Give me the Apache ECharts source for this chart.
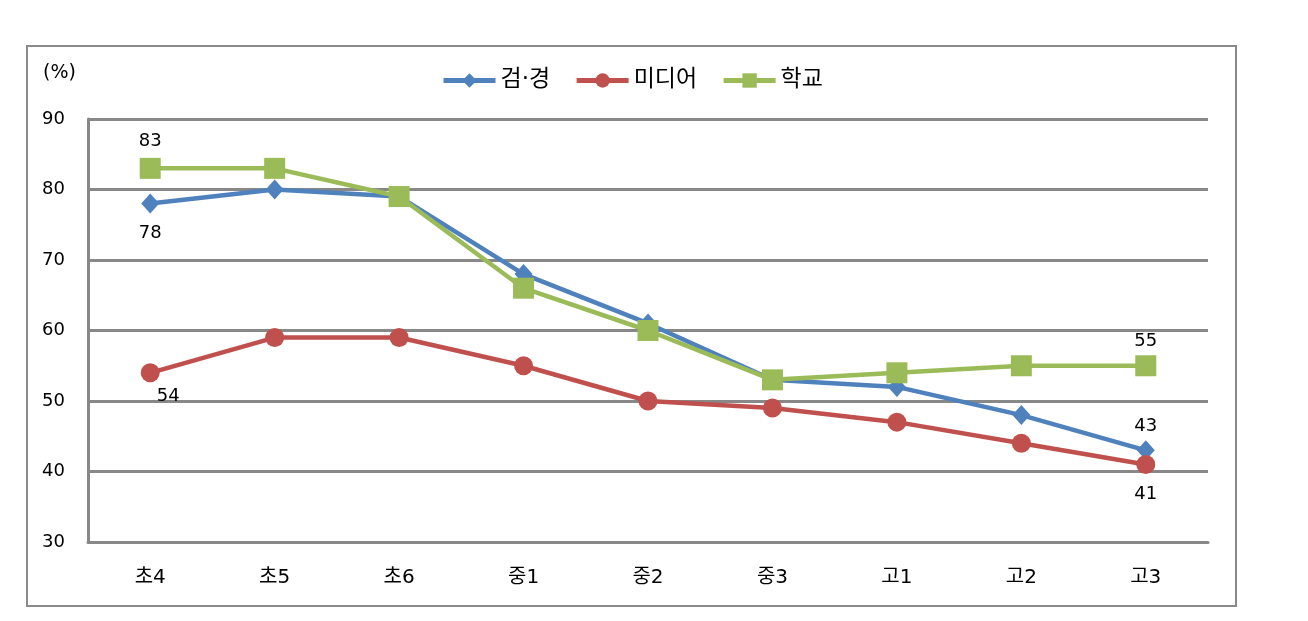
<!DOCTYPE html>
<html><head><meta charset="utf-8">
<script src="https://cdn.jsdelivr.net/npm/echarts@6/dist/echarts.min.js"></script>
<style>html,body{margin:0;padding:0;background:#fff}#c{width:1308px;height:621px}</style>
</head><body><div id="c"></div>
<script>
const categories = ['초4','초5','초6','중1','중2','중3','고1','고2','고3'];
const seriesNames = ['검·경','미디어','학교'];
const police = [78, 80, 79, 68, 61, 53, 52, 48, 43];
const media = [54, 59, 59, 55, 50, 49, 47, 44, 41];
const school = [83, 83, 79, 66, 60, 53, 54, 55, 55];
const yTicks = [30, 40, 50, 60, 70, 80, 90];
// which points carry a value label, and on which side
const policeLabels = {0: 'bottom', 8: 'top'};
const mediaLabels = {0: 'bottom', 8: 'bottom'};
const schoolLabels = {0: 'top', 8: 'top'};

const font = '"DejaVu Sans", "Noto Sans CJK KR", sans-serif';
const colors = ['#4F81BD', '#C0504D', '#9BBB59'];

function build(vals, labels, extra) {
  return vals.map((v, i) => {
    if (labels[i] === undefined) return v;
    const pos = labels[i];
    const lab = {show: true, position: pos, distance: pos === 'top' ? 5 : 11,
      color: '#000', fontSize: 18, fontFamily: font};
    if (extra && extra[i]) Object.assign(lab, extra[i]);
    return {value: v, label: lab};
  });
}

const chart = echarts.init(document.getElementById('c'), null, {renderer: 'canvas'});
chart.setOption({
  animation: false,
  backgroundColor: '#fff',
  color: colors,
  graphic: [
    {type: 'rect', shape: {x: 27, y: 46, width: 1209, height: 560},
     style: {fill: 'none', stroke: '#8a8a8a', lineWidth: 2}, silent: true},
    {type: 'text', left: 43, top: 64, style: {text: '(%)', font: '19px ' + font, fill: '#000'}}
  ],
  legend: {
    top: 64, left: 436,
    itemWidth: 52, itemHeight: 18, itemGap: 24,
    lineStyle: {width: 5},
    textStyle: {fontSize: 23, fontFamily: font, color: '#000'},
    data: seriesNames
  },
  grid: {left: 88, right: 100, top: 119, bottom: 79},
  xAxis: {
    type: 'category', data: categories, boundaryGap: true,
    axisLine: {show: true, lineStyle: {color: '#888', width: 3}},
    axisTick: {show: false},
    axisLabel: {color: '#000', fontSize: 20, fontFamily: font, margin: 26}
  },
  yAxis: {
    type: 'value', min: 30, max: 90, interval: 10,
    axisLine: {show: true, lineStyle: {color: '#888', width: 3}},
    axisTick: {show: false},
    splitLine: {show: true, lineStyle: {color: '#888', width: 3}},
    axisLabel: {color: '#000', fontSize: 18, fontFamily: font, margin: 23,
      formatter: v => yTicks.includes(v) ? String(v) : ''}
  },
  series: [
    {name: seriesNames[0], type: 'line', data: build(police, policeLabels),
     symbol: 'diamond', symbolSize: [18, 20], lineStyle: {width: 4.5, color: colors[0]},
     itemStyle: {color: colors[0]}, z: 2},
    {name: seriesNames[1], type: 'line', data: build(media, mediaLabels, {0: {offset: [18, 0], distance: 5}}),
     symbol: 'circle', symbolSize: 19, lineStyle: {width: 4.5, color: colors[1]},
     itemStyle: {color: colors[1]}, z: 3},
    {name: seriesNames[2], type: 'line', data: build(school, schoolLabels, {0: {distance: 8}}),
     symbol: 'rect', symbolSize: 21, lineStyle: {width: 4.5, color: colors[2]},
     itemStyle: {color: colors[2]}, z: 4}
  ]
});
</script></body></html>
